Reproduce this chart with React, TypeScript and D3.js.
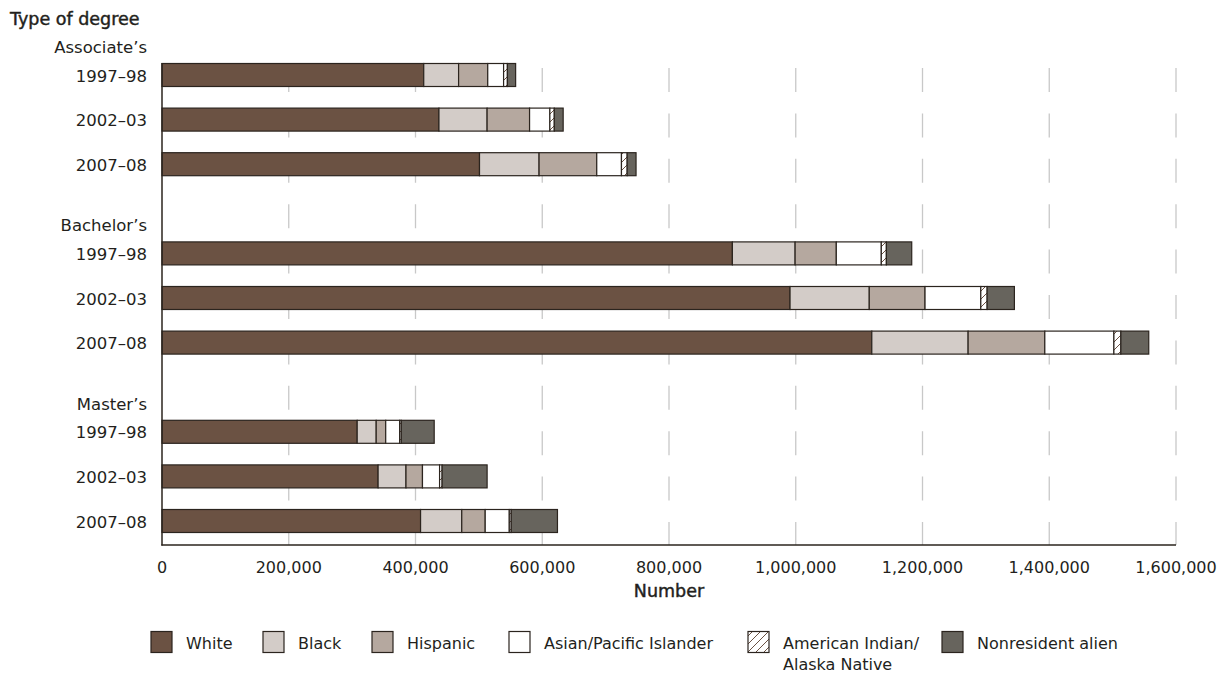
import React from "react";
import * as d3 from "d3";

const groups = ["Associate’s", "Bachelor’s", "Master’s"];
const years = ["1997–98", "2002–03", "2007–08"];
const seriesNames = ["White", "Black", "Hispanic", "Asian/Pacific Islander", "American Indian/Alaska Native", "Nonresident alien"];
// order: Assoc 97,02,07, Bach 97,02,07, Mast 97,02,07
const white = [413000, 437000, 501000, 900000, 991000, 1120000, 308000, 341000, 408000];
const black = [55000, 76000, 94000, 99000, 125000, 152000, 30000, 44000, 65000];
const hispanic = [46000, 67000, 91000, 65000, 88000, 121000, 15000, 26000, 37000];
const asian = [25000, 32000, 39000, 71000, 88000, 109000, 22000, 27000, 38000];
const amind = [6000, 7000, 9000, 8000, 10000, 11000, 2500, 4000, 3000];
const nonres = [13000, 14000, 14000, 40000, 43000, 44000, 52000, 71000, 73000];
const xTicks = [0, 200000, 400000, 600000, 800000, 1000000, 1200000, 1400000, 1600000];

const fills = ["#6b5243", "#d3ccc8", "#b5a89f", "#ffffff", "url(#hatch)", "#67645d"];
const FONT = "'DejaVu Sans', 'Liberation Sans', sans-serif";
const DARK = "#2b241e";
const TXT = "#231f1c";

export default function App() {
  const W = 1220, H = 674;
  const x = d3.scaleLinear().domain([0, 1600000]).range([162, 1176]);
  const slots = d3.range(12);
  const y = d3.scaleBand<number>().domain(slots).range([8.1, 543.3]).padding(0);
  const barH = 23;
  const allSeries = [white, black, hispanic, asian, amind, nonres];
  const rows = white.map((_, i) => {
    const g = Math.floor(i / 3);
    const slot = g * 4 + 1 + (i % 3);
    return { i, g, slot, year: years[i % 3], vals: allSeries.map((s) => s[i]) };
  });
  const stacked = rows.map((r) => {
    let acc = 0;
    return r.vals.map((v, k) => {
      const x0 = acc;
      acc += v;
      return { k, x0, x1: acc };
    });
  });
  const cy = (slot: number) => (y(slot) as number) + y.bandwidth() / 2;
  const fmt = d3.format(",");

  const legendItems = [
    { k: 0, sx: 151, lines: ["White"] },
    { k: 1, sx: 263, lines: ["Black"] },
    { k: 2, sx: 372, lines: ["Hispanic"] },
    { k: 3, sx: 509, lines: ["Asian/Pacific Islander"] },
    { k: 4, sx: 748, lines: ["American Indian/", "Alaska Native"] },
    { k: 5, sx: 942, lines: ["Nonresident alien"] },
  ];

  return (
    <svg width={W} height={H} style={{ position: "absolute", left: 0, top: 0, background: "#fff" }} fontFamily={FONT}>
      <defs>
        <pattern id="hatch" patternUnits="userSpaceOnUse" width="8" height="8">
          <rect width="8" height="8" fill="#fff" />
          <path d="M-2,2 l4,-4 M0,8 l8,-8 M6,10 l4,-4" stroke="#6b5243" strokeWidth="1" />
        </pattern>
      </defs>
      {/* gridlines */}
      {xTicks.slice(1).map((t) => (
        <line key={t} x1={x(t)} x2={x(t)} y1={68} y2={545} stroke="#c8c8c8" strokeWidth={1.3} strokeDasharray="24 21.4" />
      ))}
      {/* bars */}
      {rows.map((r, ri) => (
        <g key={ri}>
          {stacked[ri].map((s) => (
            <rect key={s.k} x={x(s.x0)} y={cy(r.slot) - barH / 2} width={x(s.x1) - x(s.x0)} height={barH}
              fill={fills[s.k]} stroke={DARK} strokeWidth={1.2} />
          ))}
        </g>
      ))}
      {/* axes */}
      <line x1={162} x2={162} y1={63} y2={545.5} stroke={DARK} strokeWidth={1.5} />
      <line x1={161.3} x2={x(1600000)} y1={545} y2={545} stroke={DARK} strokeWidth={1.5} />
      {xTicks.map((t) => (
        <text key={t} x={x(t)} y={573} textAnchor="middle" fontSize={16} fill={TXT}>{fmt(t)}</text>
      ))}
      <text x={669} y={597} textAnchor="middle" fontSize={17.5} fill={TXT} stroke={TXT} strokeWidth={0.45}>Number</text>
      {/* y labels */}
      <text x={10} y={25} fontSize={17.5} fill={TXT} stroke={TXT} strokeWidth={0.45}>Type of degree</text>
      {groups.map((g, gi) => (
        <text key={g} x={147} y={cy(gi * 4) + 22.5} textAnchor="end" fontSize={16.5} fill={TXT}>{g}</text>
      ))}
      {rows.map((r, ri) => (
        <text key={ri} x={147} y={cy(r.slot) + 6.5} textAnchor="end" fontSize={16.5} fill={TXT}>{r.year}</text>
      ))}
      {/* legend */}
      {legendItems.map((it) => (
        <g key={it.k}>
          <rect x={it.sx} y={631.5} width={21} height={21} fill={fills[it.k]} stroke={DARK} strokeWidth={1.2} />
          {it.lines.map((ln, li) => (
            <text key={li} x={it.sx + 35} y={649 + li * 21} fontSize={16} fill={TXT}>{ln}</text>
          ))}
        </g>
      ))}
    </svg>
  );
}
